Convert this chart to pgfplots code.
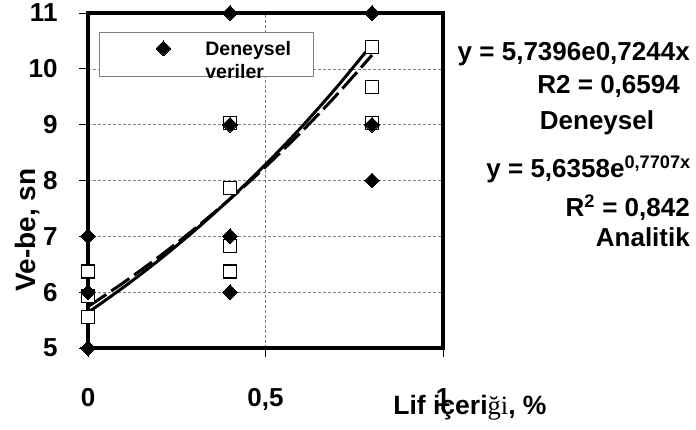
\documentclass[border=0pt]{standalone}
\usepackage{fontspec}
\setmainfont{Liberation Sans}
\newfontfamily\serifalt{Liberation Serif}
\usepackage{pgfplots}
\pgfplotsset{compat=1.18}
\begin{document}
\begin{tikzpicture}
\begin{axis}[
  anchor=south west, at={(0pt,0pt)},
  scale only axis, width=355pt, height=335pt,
  xmin=0, xmax=1, ymin=5, ymax=11,
  xtick={0,0.5,1}, xticklabels={0,{0,5},1},
  ytick={5,6,7,8,9,10,11}, yticklabels={5,6,7,8,9,10,11},
  /pgf/number format/assume math mode=true,
  tick pos=left, tick align=outside, major tick length=9pt,
  tick style={black, line width=0.7pt},
  axis line style={line width=4.8pt, black},
  grid=major, major grid style={densely dashed, gray, line width=0.6pt},
  ticklabel style={font=\fontsize{26}{30}\selectfont\bfseries},
  yticklabel style={xshift=-18pt},
  xticklabel style={yshift=-28pt},
  xlabel={Lif içeri{\serifalt\mdseries ği}, \%},
  xlabel style={at={(axis description cs:1.076,-0.2)}, anchor=base, font=\fontsize{26.5}{30}\selectfont\bfseries},
  ylabel={Ve-be, sn},
  ylabel style={at={(axis description cs:-0.149,0.352)}, anchor=base, font=\fontsize{28}{32}\selectfont\bfseries},
  clip=false,
  legend cell align=left,
  legend style={at={(rel axis cs:0.031,0.943)}, anchor=north west, draw=gray, line width=0.8pt, fill=white,
    inner xsep=0pt, inner ysep=7pt,
    nodes={inner xsep=0pt, inner ysep=0pt},
    font=\fontsize{19.5}{23}\selectfont\bfseries},
  legend image code/.code={\path[draw=none, fill=none] (0pt,-8pt) -- (106pt,8pt); \draw[#1] plot coordinates {(64pt,6pt)};},
]
% analytic (squares)
\addplot[only marks, mark=square*, mark size=6.5pt, mark options={fill=white, draw=black, line width=1.4pt}, forget plot]
  coordinates {(0,5.55)(0,5.93)(0,6.37)(0.4,6.37)(0.4,6.83)(0.4,7.87)(0.4,9.03)(0.8,9.03)(0.8,9.68)(0.8,10.39)};
% trend Deneysel (dashed)
\addplot[black, line width=3pt, dash pattern=on 22pt off 6pt, smooth, forget plot]
  coordinates {(0,5.7396)(0.1,6.1708)(0.2,6.6344)(0.3,7.1328)(0.4,7.6688)(0.5,8.2449)(0.6,8.8643)(0.7,9.5303)(0.8,10.2463)};
% trend Analitik (solid)
\addplot[black, line width=3pt, smooth, forget plot]
  coordinates {(0,5.6358)(0.1,6.0873)(0.2,6.5750)(0.3,7.1018)(0.4,7.6708)(0.5,8.2854)(0.6,8.9493)(0.7,9.6663)(0.8,10.4408)};
% experimental (diamonds)
\addplot[only marks, mark=square*, mark size=5.2pt, mark options={rotate=45, fill=black, draw=black, line width=0pt}]
  coordinates {(0,5)(0,6)(0,7)(0.4,6)(0.4,7)(0.4,9)(0.4,11)(0.8,8)(0.8,9)(0.8,11)};
\addlegendentry{\begin{tabular}{@{}l@{\hspace{22pt}}}Deneysel\\veriler\end{tabular}}
\end{axis}
\begin{scope}[every node/.style={inner sep=0pt, font=\fontsize{26}{30}\selectfont\bfseries}]
\node[anchor=base east] at (602pt,287pt) {y = 5,7396e0,7244x};
\node[anchor=base east] at (592pt,254pt) {R2 = 0,6594};
\node[anchor=base] at (509pt,218pt) {Deneysel};
\node[anchor=base east] at (603pt,170pt) {y = 5,6358e\textsuperscript{0,7707x}};
\node[anchor=base east] at (602pt,131pt) {R\textsuperscript{2} = 0,842};
\node[anchor=base east] at (602pt,101pt) {Analitik};
\end{scope}
\pgfresetboundingbox
\useasboundingbox (-88pt,-82pt) rectangle (608pt,348pt);
\end{tikzpicture}
\end{document}
